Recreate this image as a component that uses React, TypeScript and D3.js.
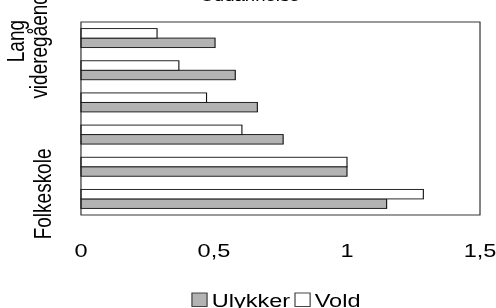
import React from 'react';
import * as d3 from 'd3';

// categories listed bottom -> top, as Excel draws a bar chart
const categories = [
  'Folkeskole',
  'Gymnasial',
  'Erhvervsfaglig',
  'Kort videregående',
  'Mellemlang videregående',
  'Lang videregående',
];
const shownLabels = ['Folkeskole', 'Lang videregående'];
const ulykker = [1.149, 1.0, 0.76, 0.663, 0.58, 0.504];
const vold = [1.287, 1.0, 0.605, 0.472, 0.368, 0.286];
const xTicks = [0, 0.5, 1, 1.5];
const seriesNames = ['Ulykker', 'Vold'];
const seriesColors = ['#b3b3b3', '#ffffff'];

// the picture is stretched horizontally, so draw in a narrower box
const S = 1.24;
const W = 496 / S;
const H = 308;
const font = 'Liberation Sans, Arial, sans-serif';

const App = () => {
  const x = d3.scaleLinear().domain([0, 1.5]).range([65.3, 387.1]);
  const y = d3
    .scaleBand<string>()
    .domain([...categories].reverse())
    .range([22, 215])
    .paddingInner(0.41)
    .paddingOuter(0.205);
  // Vold on top, Ulykker below inside each category
  const inner = d3.scaleBand<string>().domain(['Vold', 'Ulykker']).range([0, y.bandwidth()]);

  const rows = categories.map((c, i) => ({ c, vals: [ulykker[i], vold[i]] }));
  const fmt = (v: number) => String(v).replace('.', ',');
  const topMid = (y('Lang videregående') ?? 0) + y.bandwidth() / 2 + 3;

  return (
    <div style={{ position: 'fixed', left: 0, top: 0 }}>
      <svg width={496} height={308} viewBox={`0 0 ${W} ${H}`} preserveAspectRatio="none" style={{ display: 'block' }}>
        <rect x={0} y={0} width={W} height={H} fill="#fff" />
        <text x={201.6} y={1} fontSize={15} fontFamily={font} textAnchor="middle" fill="#000">
          Uddannelse
        </text>

        {rows.map((r) => (
          <g key={r.c} transform={`translate(0,${y(r.c)})`}>
            {r.vals.map((v, k) => (
              <rect
                key={k}
                x={x(0)}
                y={inner(seriesNames[k])}
                width={x(v) - x(0)}
                height={inner.bandwidth()}
                fill={seriesColors[k]}
                stroke="#111"
                strokeWidth={0.9}
              />
            ))}
          </g>
        ))}

        <rect x={x(0)} y={22} width={x(1.5) - x(0)} height={193} fill="none" stroke="#222" strokeWidth={0.9} />

        {xTicks.map((t) => (
          <text key={t} x={x(t)} y={257} fontSize={19} fontFamily={font} textAnchor="middle" fill="#000">
            {fmt(t)}
          </text>
        ))}

        <text
          transform={`translate(41.5,${(y('Folkeskole') ?? 0) + y.bandwidth() / 2 - 5}) rotate(-90)`}
          fontSize={19}
          fontFamily={font}
          textAnchor="middle"
          fill="#000"
        >
          {shownLabels[0]}
        </text>
        <text transform={`translate(19.5,${topMid}) rotate(-90)`} fontSize={19} fontFamily={font} textAnchor="middle" fill="#000">
          Lang
        </text>
        <text transform={`translate(38,${topMid}) rotate(-90)`} fontSize={19} fontFamily={font} textAnchor="middle" fill="#000">
          videregående
        </text>

        {seriesNames.map((s, k) => {
          const lx = [154.8, 237.9][k];
          return (
            <g key={s}>
              <rect x={lx} y={293} width={12.2} height={13.5} fill={seriesColors[k]} stroke="#333" strokeWidth={0.9} />
              <text x={lx + 15.9} y={307.5} fontSize={19} fontFamily={font} fill="#000">
                {s}
              </text>
            </g>
          );
        })}
      </svg>
    </div>
  );
};

export default App;
